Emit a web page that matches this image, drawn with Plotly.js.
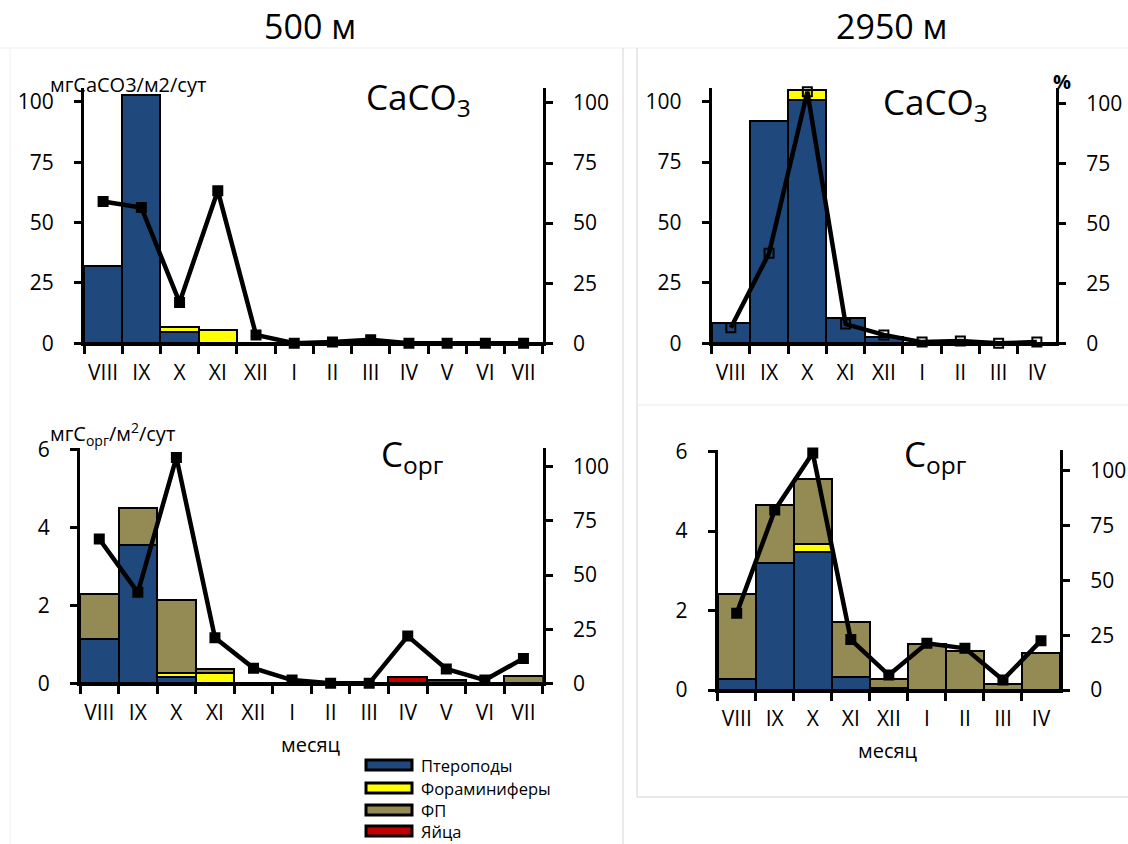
<!DOCTYPE html>
<html>
<head>
<meta charset="utf-8">
<script src="https://cdn.plot.ly/plotly-3.0.1.min.js"></script>
<style>
  html, body { margin: 0; padding: 0; background: #ffffff; }
  #chart { width: 1128px; height: 844px; }
</style>
</head>
<body>
<div id="chart"></div>
<script>
// ---- Data ---------------------------------------------------------------
// Months of the sediment-trap series
const months500 = ['VIII', 'IX', 'X', 'XI', 'XII', 'I', 'II', 'III', 'IV', 'V', 'VI', 'VII'];
const months2950 = ['VIII', 'IX', 'X', 'XI', 'XII', 'I', 'II', 'III', 'IV'];

// Flux components (legend names)
const seriesNames = ['Птероподы', 'Фораминиферы', 'ФП', 'Яйца'];

// 500 m, CaCO3 flux, мг CaCO3 / м2 / сут
const caco3_500_pteropods = [32, 103, 4.5, 0, 0, 0, 0, 0, 0, 0, 0, 0];
const caco3_500_forams    = [0, 0, 2.4, 5.5, 0, 0, 0, 0, 0, 0, 0, 0];
// 500 m, share of CaCO3, %
const caco3_500_pct       = [59, 56.5, 17, 63.5, 3.5, 0, 0.5, 1.5, 0, 0, 0, 0];

// 2950 m, CaCO3 flux
const caco3_2950_pteropods = [8.5, 92, 100.7, 10.5, 2.5, 0, 1, 0, 0];
const caco3_2950_forams    = [0, 0, 3.9, 0, 0, 0, 0, 0, 0];
const caco3_2950_pct       = [6.5, 37.5, 104.8, 8, 3.5, 0.5, 1, 0, 0.5];

// 500 m, Corg flux, мг Corg / м2 / сут
const corg_500_pteropods = [1.14, 3.56, 0.15, 0, 0, 0, 0, 0, 0, 0.08, 0, 0];
const corg_500_forams    = [0, 0, 0.12, 0.27, 0, 0, 0, 0, 0, 0, 0, 0];
const corg_500_fp        = [1.16, 0.94, 1.87, 0.09, 0, 0, 0, 0, 0, 0, 0, 0.19];
const corg_500_eggs      = [0, 0, 0, 0, 0, 0, 0, 0, 0.15, 0, 0, 0];
const corg_500_pct       = [66.6, 42, 104.3, 21, 7, 1.5, 0, 0, 21.8, 6.6, 1.5, 11.5];

// 2950 m, Corg flux
const corg_2950_pteropods = [0.28, 3.2, 3.48, 0.32, 0.05, 0, 0, 0, 0];
const corg_2950_forams    = [0, 0, 0.2, 0, 0, 0, 0, 0, 0];
const corg_2950_fp        = [2.14, 1.45, 1.62, 1.4, 0.23, 1.15, 0.99, 0.15, 0.92];
const corg_2950_pct       = [35, 82, 108, 23, 6.8, 21.3, 19, 4.6, 22.5];

// ---- Styles -------------------------------------------------------------
const FONT = '"Open Sans", "Noto Sans", "DejaVu Sans", sans-serif';
const COLORS = ['#1F497D', '#FFFF00', '#948A54', '#C00000'];
const W = 1128, H = 844;
const px = x => x / W;          // pixel -> paper x
const py = y => 1 - y / H;      // pixel -> paper y

function bar(name, idx, x, y, xa, ya) {
  return {
    type: 'bar', name: name, x: x, y: y, xaxis: xa, yaxis: ya,
    marker: { color: COLORS[idx], line: { color: '#000000', width: 2 } },
    width: 1, showlegend: false, hoverinfo: 'x+y+name'
  };
}
function pctLine(x, y, xa, ya, symbol) {
  return {
    type: 'scatter', mode: 'lines+markers', x: x, y: y, xaxis: xa, yaxis: ya,
    line: { color: '#000000', width: 4.5 },
    marker: { symbol: symbol, size: 9, color: '#000000', line: { color: '#000000', width: 2 } },
    cliponaxis: false, showlegend: false, name: '%'
  };
}

const traces = [
  // 500 m CaCO3
  bar(seriesNames[0], 0, months500, caco3_500_pteropods, 'x', 'y'),
  bar(seriesNames[1], 1, months500, caco3_500_forams, 'x', 'y'),
  pctLine(months500, caco3_500_pct, 'x', 'y2', 'square'),
  // 2950 m CaCO3
  bar(seriesNames[0], 0, months2950, caco3_2950_pteropods, 'x2', 'y3'),
  bar(seriesNames[1], 1, months2950, caco3_2950_forams, 'x2', 'y3'),
  pctLine(months2950, caco3_2950_pct, 'x2', 'y4', 'square-open'),
  // 500 m Corg
  bar(seriesNames[0], 0, months500, corg_500_pteropods, 'x3', 'y5'),
  bar(seriesNames[1], 1, months500, corg_500_forams, 'x3', 'y5'),
  bar(seriesNames[2], 2, months500, corg_500_fp, 'x3', 'y5'),
  bar(seriesNames[3], 3, months500, corg_500_eggs, 'x3', 'y5'),
  pctLine(months500, corg_500_pct, 'x3', 'y6', 'square'),
  // 2950 m Corg
  bar(seriesNames[0], 0, months2950, corg_2950_pteropods, 'x4', 'y7'),
  bar(seriesNames[1], 1, months2950, corg_2950_forams, 'x4', 'y7'),
  bar(seriesNames[2], 2, months2950, corg_2950_fp, 'x4', 'y7'),
  pctLine(months2950, corg_2950_pct, 'x4', 'y8', 'square')
];

// ---- Axes ---------------------------------------------------------------
function xAxis(domain, anchor, n) {
  return {
    domain: domain, anchor: anchor, type: 'category', range: [-0.5, n - 0.5],
    tickson: 'boundaries', ticks: 'outside', ticklen: 8, tickwidth: 3, tickcolor: '#000',
    showline: true, linewidth: 3, linecolor: '#000', showgrid: false, zeroline: false,
    tickangle: 0, automargin: false,
    tickfont: { family: FONT, size: 21, color: '#000' }, ticklabelstandoff: 8,
    fixedrange: true
  };
}
function yAxis(domain, anchor, range, tickvals, side, overlay) {
  const a = {
    domain: domain, anchor: anchor, range: range, tickvals: tickvals,
    ticks: 'outside', ticklen: 7, tickwidth: 3, tickcolor: '#000',
    showline: true, linewidth: 3, linecolor: '#000', showgrid: false, zeroline: false,
    tickfont: { family: FONT, size: 21, color: '#000' }, ticklabelstandoff: 16,
    side: side, fixedrange: true
  };
  if (overlay) a.overlaying = overlay;
  return a;
}

const pctTicks = [0, 25, 50, 75, 100];
const dom1x = [px(84), px(542.7)],   dom1y = [py(343.3), py(88.3)];
const dom2x = [px(711.7), px(1056)], dom2y = [py(343.3), py(88.3)];
const dom3x = [px(80), px(542.7)],   dom3y = [py(683.3), py(448.3)];
const dom4x = [px(717.7), px(1060)], dom4y = [py(690), py(450)];

// ---- Annotations --------------------------------------------------------
function txt(x, y, text, size, xanchor) {
  return {
    xref: 'paper', yref: 'paper', x: px(x), y: py(y), text: text, showarrow: false,
    xanchor: xanchor || 'center', yanchor: 'middle',
    font: { family: FONT, size: size, color: '#000' }
  };
}
const annotations = [
  txt(310, 26, '500 м', 34),
  txt(892, 26, '2950 м', 34),
  txt(48, 84, 'мгCaCO3/м2/сут', 20, 'left'),
  txt(418, 98, 'CaCO<sub>3</sub>', 35),
  txt(935, 104, 'CaCO<sub>3</sub>', 35),
  txt(1062, 82, '<b>%</b>', 20),
  txt(48, 434, 'мгC<sub>орг</sub>/м<sup>2</sup>/сут', 20, 'left'),
  txt(412, 455, 'C<sub>орг</sub>', 35),
  txt(935, 455, 'C<sub>орг</sub>', 35),
  txt(311, 744, 'месяц', 20),
  txt(888, 750, 'месяц', 20)
];

// Legend: swatches and labels
const legendRows = [765, 788, 810, 831];
const shapes = [];
seriesNames.forEach((nm, i) => {
  shapes.push({
    type: 'rect', xref: 'paper', yref: 'paper',
    x0: px(366), x1: px(412), y0: py(legendRows[i] + 5), y1: py(legendRows[i] - 5),
    fillcolor: COLORS[i], line: { color: '#000', width: 3 }
  });
  annotations.push(txt(419, legendRows[i], nm, 16.5, 'left'));
});

// Light frame lines around the panels
function seg(x0, y0, x1, y1, color) {
  return {
    type: 'line', xref: 'paper', yref: 'paper',
    x0: px(x0), y0: py(y0), x1: px(x1), y1: py(y1),
    line: { color: color, width: 1 }, layer: 'below'
  };
}
shapes.push(seg(0, 48, 1128, 48, '#f0f0f0'));
shapes.push(seg(10, 48, 10, 844, '#f0f0f0'));
shapes.push(seg(623, 48, 623, 844, '#d4d4d4'));
shapes.push(seg(637, 48, 637, 797, '#d4d4d4'));
shapes.push(seg(637, 405, 1128, 405, '#ececec'));
shapes.push(seg(637, 797, 1128, 797, '#d4d4d4'));

const layout = {
  width: W, height: H,
  margin: { l: 0, r: 0, t: 0, b: 0 },
  paper_bgcolor: '#ffffff', plot_bgcolor: 'rgba(0,0,0,0)',
  barmode: 'stack', bargap: 0,
  showlegend: false,
  font: { family: FONT, color: '#000' },
  xaxis:  xAxis(dom1x, 'y', months500.length),
  yaxis:  yAxis(dom1y, 'x', [0, 105.6], pctTicks, 'left'),
  yaxis2: yAxis(dom1y, 'x', [0, 106.1], pctTicks, 'right', 'y'),
  xaxis2: xAxis(dom2x, 'y3', months2950.length),
  yaxis3: yAxis(dom2y, 'x2', [0, 105.5], pctTicks, 'left'),
  yaxis4: yAxis(dom2y, 'x2', [0, 106.2], pctTicks, 'right', 'y3'),
  xaxis3: xAxis(dom3x, 'y5', months500.length),
  yaxis5: yAxis(dom3y, 'x3', [0, 6.04], [0, 2, 4, 6], 'left'),
  yaxis6: yAxis(dom3y, 'x3', [0, 108.5], pctTicks, 'right', 'y5'),
  xaxis4: xAxis(dom4x, 'y7', months2950.length),
  yaxis7: yAxis(dom4y, 'x4', [0, 6.04], [0, 2, 4, 6], 'left'),
  yaxis8: yAxis(dom4y, 'x4', [0, 109.4], pctTicks, 'right', 'y7'),
  annotations: annotations,
  shapes: shapes
};

Plotly.newPlot('chart', traces, layout, { displayModeBar: false, staticPlot: true });
</script>
</body>
</html>
